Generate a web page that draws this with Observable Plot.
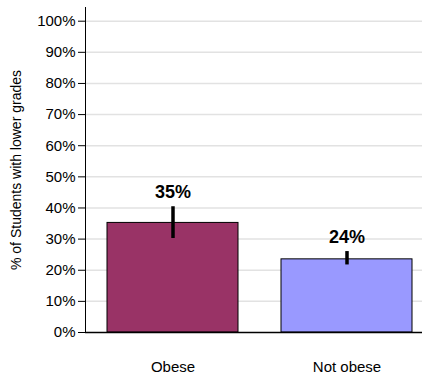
<!DOCTYPE html>
<html>
<head>
<meta charset="utf-8">
<script src="https://cdn.jsdelivr.net/npm/d3@7"></script>
<script src="https://cdn.jsdelivr.net/npm/@observablehq/plot@0.6"></script>
<style>
  html, body { margin: 0; padding: 0; background: #fff; }
</style>
</head>
<body>
<div id="chart"></div>
<script>
const categories = ["Obese", "Not obese"];
const values = [35.2, 23.5];
const errLow = [30.2, 21.7];
const errHigh = [40.4, 26.0];
const valueLabels = ["35%", "24%"];
const barColors = ["#993366", "#9999FF"];
const yTicks = [0, 10, 20, 30, 40, 50, 60, 70, 80, 90, 100];

const data = categories.map((c, i) => ({
  cat: c, value: values[i], lo: errLow[i], hi: errHigh[i], label: valueLabels[i], color: barColors[i]
}));

const chart = Plot.plot({
  width: 422,
  height: 375,
  marginLeft: 85,
  marginRight: 0,
  marginTop: 7,
  marginBottom: 43,
  style: { fontFamily: "'Liberation Sans', Arial, sans-serif", fontSize: "14px", background: "#fff", color: "#000" },
  x: { domain: categories, range: [85, 435], paddingInner: 0.246, paddingOuter: 0.124 },
  y: { domain: [0, 104.4] },
  marks: [
    Plot.ruleY(yTicks.slice(1), { stroke: "#e2e2e2", strokeWidth: 1.5 }),
    Plot.barY(data, { x: "cat", y: "value", fill: "color", stroke: "#000", strokeWidth: 1 }),
    Plot.ruleX(data, { x: "cat", y1: "lo", y2: "hi", stroke: "#000", strokeWidth: 3.5 }),
    Plot.text(data, { x: "cat", y: "hi", text: "label", dy: -9, lineAnchor: "bottom", fontSize: 18, fontWeight: "bold" }),
    Plot.axisY({ ticks: yTicks, tickFormat: d => d + "%", tickSize: 7, tickPadding: 3, label: null, fontSize: 15 }),
    Plot.axisY({ ticks: [], tickSize: 0, label: "% of Students with lower grades", labelAnchor: "center", labelArrow: "none", labelOffset: 74, fontSize: 14 }),
    Plot.axisX({ tickSize: 0, tickPadding: 29, label: null, fontSize: 15 }),
    Plot.frame({ anchor: "left", stroke: "#000" }),
    Plot.ruleY([0], { stroke: "#000", strokeWidth: 1.5 })
  ]
});
document.getElementById("chart").appendChild(chart);
</script>
</body>
</html>
